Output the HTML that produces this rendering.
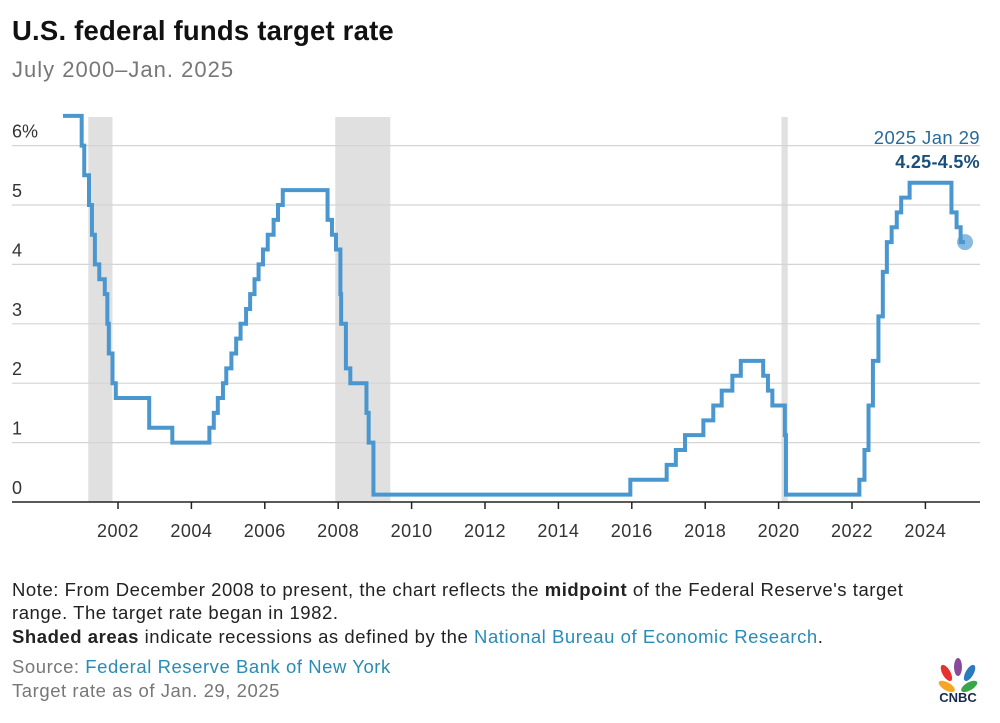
<!DOCTYPE html>
<html><head><meta charset="utf-8"><style>
body{margin:0;width:1000px;height:723px;background:#fff;font-family:"Liberation Sans",sans-serif;overflow:hidden;position:relative}
.t{position:absolute;white-space:nowrap}
.note{font-size:18.5px;color:#222;letter-spacing:0.55px}
.lnk{color:#2a8bb5}
</style></head><body>
<div class="t" style="left:12px;top:15px;font-size:27.5px;font-weight:bold;color:#111;letter-spacing:0.2px">U.S. federal funds target rate</div>
<div class="t" style="left:12px;top:57px;font-size:22px;color:#777;letter-spacing:1px">July 2000–Jan. 2025</div>
<svg id="chart" width="1000" height="560" style="position:absolute;left:0;top:0"></svg>
<div class="t note" style="left:12px;top:579px">Note: From December 2008 to present, the chart reflects the <b>midpoint</b> of the Federal Reserve's target</div>
<div class="t note" style="left:12px;top:602px">range. The target rate began in 1982.</div>
<div class="t note" style="left:12px;top:626px"><b>Shaded areas</b> indicate recessions as defined by the <span class="lnk">National Bureau of Economic Research</span>.</div>
<div class="t note" style="left:12px;top:656px;color:#777">Source: <span class="lnk">Federal Reserve Bank of New York</span></div>
<div class="t note" style="left:12px;top:680px;color:#777">Target rate as of Jan. 29, 2025</div>
<svg width="44" height="50" style="position:absolute;left:936px;top:655px">
<g transform="translate(22,24)">
<ellipse cx="-12" cy="-6" rx="4" ry="9" fill="#f5a623" transform="rotate(-60)"/>
<ellipse cx="-7" cy="-11" rx="4" ry="9" fill="#e8312f" transform="rotate(-30)"/>
<ellipse cx="0" cy="-12" rx="4" ry="9" fill="#8a4a9c"/>
<ellipse cx="7" cy="-11" rx="4" ry="9" fill="#2a7ac0" transform="rotate(30)"/>
<ellipse cx="12" cy="-6" rx="4" ry="9" fill="#3aa64a" transform="rotate(60)"/>
</g>
<text x="22" y="47" text-anchor="middle" font-family="Liberation Sans" font-weight="bold" font-size="13" fill="#1a2a4a">CNBC</text>
</svg>
<script>
const years=[2002,2004,2006,2008,2010,2012,2014,2016,2018,2020,2022,2024];
const yTicks=[0,1,2,3,4,5,6];
const recessions=[[2001.19,2001.85],[2007.92,2009.42],[2020.08,2020.25]];
const dates=[2000.5,2001.01,2001.08,2001.21,2001.29,2001.37,2001.49,2001.64,2001.71,2001.75,2001.85,2001.94,2002.85,2003.48,2004.49,2004.61,2004.72,2004.86,2004.95,2005.09,2005.22,2005.34,2005.49,2005.6,2005.72,2005.83,2005.95,2006.08,2006.24,2006.36,2006.49,2007.71,2007.83,2007.94,2008.06,2008.08,2008.21,2008.33,2008.77,2008.83,2008.96,2015.96,2016.95,2017.2,2017.45,2017.95,2018.22,2018.45,2018.74,2018.97,2019.58,2019.71,2019.83,2020.17,2020.2,2022.2,2022.34,2022.45,2022.57,2022.72,2022.84,2022.95,2023.08,2023.22,2023.34,2023.57,2024.71,2024.85,2024.96,2025.08];
const rates=[6.5,6.0,5.5,5.0,4.5,4.0,3.75,3.5,3.0,2.5,2.0,1.75,1.25,1.0,1.25,1.5,1.75,2.0,2.25,2.5,2.75,3.0,3.25,3.5,3.75,4.0,4.25,4.5,4.75,5.0,5.25,4.75,4.5,4.25,3.5,3.0,2.25,2.0,1.5,1.0,0.125,0.375,0.625,0.875,1.125,1.375,1.625,1.875,2.125,2.375,2.125,1.875,1.625,1.125,0.125,0.375,0.875,1.625,2.375,3.125,3.875,4.375,4.625,4.875,5.125,5.375,4.875,4.625,4.375,4.375];
const X=t=>118+(t-2002)*36.7;
const Y=v=>502-v*59.4;
const NS="http://www.w3.org/2000/svg";
const svg=document.getElementById('chart');
function mk(tag,attrs){const e=document.createElementNS(NS,tag);for(const k in attrs)e.setAttribute(k,attrs[k]);svg.appendChild(e);return e;}
recessions.forEach(r=>{const e=mk('rect',{x:X(r[0]),y:117,width:X(r[1])-X(r[0]),height:385,fill:'#e0e0e0'});

});
yTicks.forEach(v=>{if(v>0){const g=mk('line',{x1:12,x2:980,y1:Y(v),y2:Y(v),stroke:'#d4d4d4','stroke-width':1.2});

}
const t=mk('text',{x:12,y:Y(v)-8,'font-size':18,fill:'#333','font-family':'Liberation Sans'});t.textContent=v===6?'6%':v;

});
const ax=mk('line',{x1:12,x2:980,y1:502,y2:502,stroke:'#222','stroke-width':1.5});


years.forEach(y=>{const tk=mk('line',{x1:X(y),x2:X(y),y1:502,y2:509,stroke:'#222','stroke-width':1.5});


const t=mk('text',{x:X(y),y:537,'font-size':18,fill:'#333','text-anchor':'middle','font-family':'Liberation Sans','letter-spacing':0.5});t.textContent=y;

});
let d='M'+X(dates[0])+' '+Y(rates[0]);
for(let i=1;i<dates.length;i++){d+=' H'+X(dates[i])+' V'+Y(rates[i]);}
const p=mk('path',{d:d,fill:'none',stroke:'#4a96cf','stroke-width':4,'stroke-linejoin':'miter'});


const n=dates.length-1;
const c=mk('circle',{cx:X(dates[n]),cy:Y(rates[n]),r:8,fill:'#4a96cf','fill-opacity':0.65});


const a1=mk('text',{x:980,y:144,'font-size':18.5,fill:'#2a6a9a','text-anchor':'end','font-family':'Liberation Sans','letter-spacing':0.4});a1.textContent='2025 Jan 29';


const a2=mk('text',{x:980,y:168,'font-size':18,'font-weight':'bold',fill:'#1a4f7a','text-anchor':'end','font-family':'Liberation Sans','letter-spacing':0.3});a2.textContent='4.25-4.5%';


</script>
</body></html>
